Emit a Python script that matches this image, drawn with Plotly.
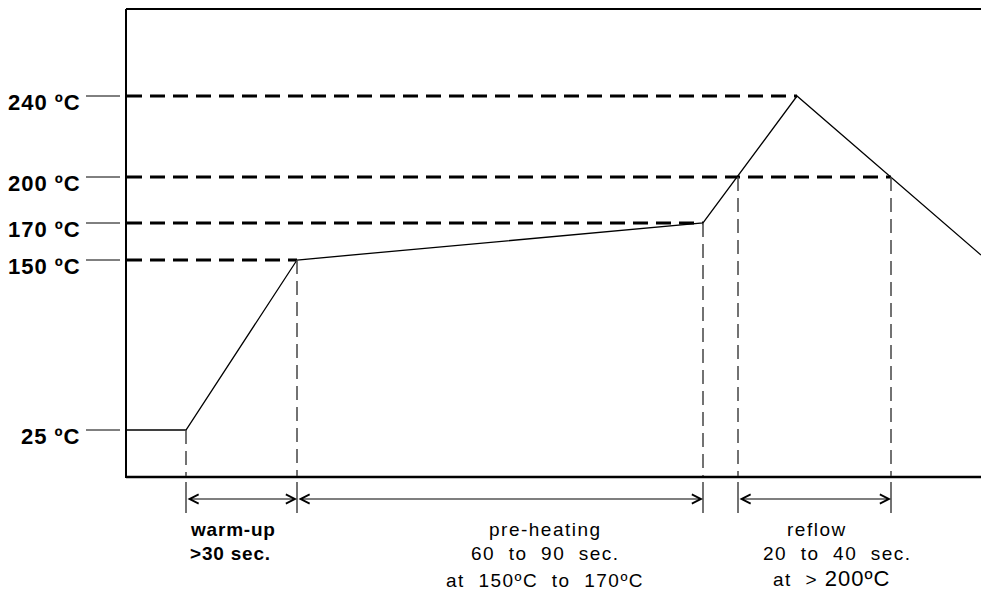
import plotly.graph_objects as go

# ---- data (schematic reflow profile; x = time position, h = drawn temperature level) ----
profile_x = [0, 60, 171, 577, 671, 855]
profile_h = [47, 47, 217, 254, 381, 222]

temp_labels = ["25 ºC", "150 ºC", "170 ºC", "200 ºC", "240 ºC"]
level_h = [47, 217, 254, 300, 381]
# x where each level's dashed guide ends (None = no guide)
level_end_x = [None, 171, 577, 765, 671]

# vertical guide lines: x position and the level they start from
guide_x = [60, 171, 577, 612, 765]
guide_top = [47, 217, 254, 300, 300]

# phase spans (start x, end x)
phase_spans = [(60, 171), (171, 577), (612, 765)]

FONT = "Liberation Sans, Arial, Helvetica, sans-serif"

fig = go.Figure()

shapes = []
# axes / frame
shapes.append(dict(type="line", x0=0, y0=0, x1=855, y1=0, line=dict(color="black", width=2.5)))
shapes.append(dict(type="line", x0=0, y0=-1, x1=0, y1=468, line=dict(color="black", width=2)))
shapes.append(dict(type="line", x0=0, y0=468, x1=855, y1=468, line=dict(color="black", width=2)))

# tick marks and horizontal dashed guides
for h, ex in zip(level_h, level_end_x):
    shapes.append(dict(type="line", x0=-40, y0=h, x1=-6, y1=h, line=dict(color="black", width=1)))
    if ex is not None:
        shapes.append(dict(type="line", x0=1, y0=h, x1=ex, y1=h,
                           line=dict(color="black", width=3, dash="15px,8px")))

# vertical dashed guides and below-axis markers
for gx, gt in zip(guide_x, guide_top):
    shapes.append(dict(type="line", x0=gx, y0=gt, x1=gx, y1=1,
                       line=dict(color="#444444", width=1.5, dash="14px,7px")))
    shapes.append(dict(type="line", x0=gx, y0=-5, x1=gx, y1=-36,
                       line=dict(color="#444444", width=1.5)))

fig.update_layout(shapes=shapes)

# profile curve
fig.add_trace(go.Scatter(x=profile_x, y=profile_h, mode="lines",
                         line=dict(color="black", width=1.3), hoverinfo="skip",
                         showlegend=False))

ann = []
# y labels
for h, lab in zip(level_h, temp_labels):
    ann.append(dict(x=-43, y=h, xref="x", yref="y", xanchor="right", yanchor="middle",
                    yshift=-6.5, showarrow=False,
                    text='<span style="letter-spacing:1px">%s</span>' % lab,
                    font=dict(family=FONT, size=22, color="black", weight="bold")))

# double arrows
for (a, b) in phase_spans:
    ann.append(dict(x=b, y=-22, ax=a, ay=-22, xref="x", yref="y", axref="x", ayref="y",
                    text="", showarrow=True, arrowside="end+start",
                    arrowhead=5, startarrowhead=5, arrowsize=1.5, startarrowsize=1.5,
                    arrowwidth=1.2, arrowcolor="black"))

def txt(x, y, s, size=19, bold=False, anchor="center", ls=1.5):
    ann.append(dict(x=x, y=y, xref="x", yref="y", xanchor=anchor, yanchor="middle",
                    showarrow=False,
                    text='<span style="letter-spacing:%spx">%s</span>' % (ls, s),
                    font=dict(family=FONT, size=size, color="black",
                              weight="bold" if bold else "normal")))

# phase texts
txt(62, -52, "warm-up", size=19, bold=True, anchor="left", ls=0.8)
txt(62, -76, "&gt;30 sec.", size=19, bold=True, anchor="left", ls=0.8)

txt(419, -52, "pre-heating")
txt(419, -76.5, "60  to  90  sec.")
txt(419, -103, "at  150ºC  to  170ºC")

txt(691, -52, "reflow")
txt(711, -76.5, "20  to  40  sec.")
ann.append(dict(x=705, y=-101, xref="x", yref="y", xanchor="center", yanchor="middle",
                showarrow=False,
                text='<span style="letter-spacing:1.5px">at  &gt; </span>'
                     '<span style="letter-spacing:1px;font-size:22px">200ºC</span>',
                font=dict(family=FONT, size=19, color="black")))

fig.update_layout(
    annotations=ann,
    width=981, height=592,
    margin=dict(l=0, r=0, t=0, b=0),
    paper_bgcolor="white", plot_bgcolor="white",
    xaxis=dict(range=[-126, 855], visible=False, fixedrange=True),
    yaxis=dict(range=[-115, 477], visible=False, fixedrange=True),
    showlegend=False,
)

fig.write_html("out.html", config={"displayModeBar": False},
               post_script="document.body.style.margin='0';document.body.style.overflow='hidden';")
